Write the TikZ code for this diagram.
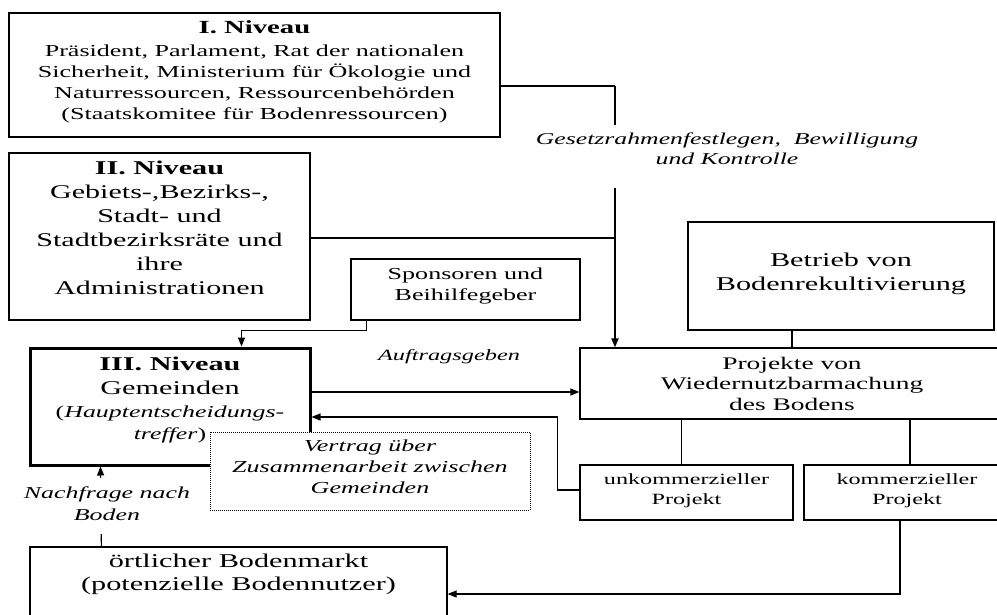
\documentclass[tikz,border=0pt]{standalone}
\usepackage{fontspec}
\setmainfont{Liberation Serif}[FakeStretch=1.55]
\usetikzlibrary{arrows.meta}
\newcommand{\fsz}[2]{\fontsize{#1}{#2}\selectfont}
\newcommand{\xdepth}[1]{\rule[-#1]{0pt}{#1}}
\tikzset{
  box/.style={draw, line width=1.2pt, inner sep=0pt, align=center, fill=white},
  lbl/.style={inner sep=0pt, align=center},
  conn/.style={line width=1.2pt},
  arr/.style={line width=1.2pt, -{Triangle[length=9pt,width=7pt]}},
}
\begin{document}
\begin{tikzpicture}[x=1pt,y=-1pt]
\useasboundingbox (0,0) rectangle (997,615);
\clip (0,0) rectangle (997,615);

% boxes
\node[box, minimum width=491pt, minimum height=124pt, font=\fsz{16.8}{21}] (n1) at (254.5,75)
  {{\bfseries\fsz{18.5}{21}I. Niveau}\\[2pt]
   Präsident, Parlament, Rat der nationalen\\
   Sicherheit, Ministerium für Ökologie und\\
   Naturressourcen, Ressourcenbehörden\\
   (Staatskomitee für Bodenressourcen)\xdepth{9pt}};

\node[box, minimum width=301pt, minimum height=167pt, font=\fsz{19.4}{24}] (n2) at (159.5,236.5)
  {{\bfseries\fsz{19.5}{24}II. Niveau}\\
   Gebiets-,Bezirks-,\\
   Stadt- und\\
   Stadtbezirksräte und\\
   ihre\\
   Administrationen\xdepth{17pt}};

\node[box, minimum width=229pt, minimum height=61pt, font=\fsz{16.8}{21}] (spon) at (465.5,289.5)
  {Sponsoren und\\Beihilfegeber\xdepth{11pt}};

\node[box, minimum width=306pt, minimum height=108pt, font=\fsz{19.5}{24}] (bet) at (841,276)
  {Betrieb von\\Bodenrekultivierung\xdepth{8pt}};

\node[box, minimum width=424pt, minimum height=71pt, font=\fsz{17.7}{20.5}] (proj) at (792,383.5)
  {Projekte von\\Wiedernutzbarmachung\\des Bodens};

\node[box, line width=3pt, minimum width=280pt, minimum height=117pt, font=\fsz{19.5}{24}] (n3) at (170,406.5)
  {{\bfseries III. Niveau}\\
   Gemeinden\\[-1pt]
   {\fsz{16.7}{22}(\textit{Hauptentscheidungs-}}\\[-2pt]
   {\fsz{16.7}{22}\textit{treffer})}\xdepth{16pt}};

\node[box, minimum width=213pt, minimum height=55pt, font=\fsz{15.6}{20}] (unk) at (686.5,492.5)
  {unkommerzieller\\Projekt\xdepth{6pt}};

\node[box, minimum width=206pt, minimum height=55pt, font=\fsz{15.6}{20}] (komm) at (907,492.5)
  {kommerzieller\\Projekt\xdepth{6pt}};

\node[box, minimum width=417pt, minimum height=73pt, font=\fsz{19.5}{23}] (mkt) at (238.5,583.5)
  {örtlicher Bodenmarkt\\(potenzielle Bodennutzer)\xdepth{22pt}};

% connectors
\coordinate (j1) at (615,86);
\draw[conn] ([yshift=-11pt]n1.east) -- (j1);
\draw[line width=2pt, -{Triangle[length=9pt,width=7pt]}] (j1) -- (j1 |- proj.north);
\draw[conn] ([yshift=-1.5pt]n2.east) -- ([yshift=-1.5pt]n2.east -| j1);

\draw[arr] ([xshift=16pt]spon.south west) -- ++(0,10) -| ([xshift=213pt]n3.north west);

\coordinate (a1) at ([yshift=14.5pt]n3.east);
\draw[arr] (a1) -- (a1 -| proj.west);

\coordinate (a2) at ([yshift=-10.5pt]n3.east);
\draw[arr] ([yshift=2.5pt]unk.west) -- ++(-22,0) |- (a2);

\draw[conn] (proj.north) -- (proj.north |- bet.south);
\draw[conn] ([xshift=-5pt]unk.north) -- ([xshift=-5pt]unk.north |- proj.south);
\draw[conn] ([xshift=3pt]komm.north) -- ([xshift=3pt]komm.north |- proj.south);

\coordinate (a3) at ([yshift=-10.5pt]mkt.east);
\draw[arr] ([xshift=-7pt]komm.south) |- (a3);

\draw[arr] ([xshift=72pt]mkt.north west) -- node[lbl, fill=white, minimum height=56pt, xshift=6pt, font=\fsz{16.7}{22}\itshape] (nach) {Nachfrage nach\\Boden\xdepth{5pt}} ([xshift=72pt]n3.south west);

% dotted agreement box (on top of III. Niveau)
\node[box, line width=0.9pt, dash pattern=on 1pt off 1pt, minimum width=320pt, minimum height=78pt, font=\fsz{16.8}{21}\itshape] (vert) at (370,471)
  {Vertrag über\\Zusammenarbeit zwischen\\Gemeinden\xdepth{9pt}};

% labels
\node[lbl, fill=white, minimum height=63pt, font=\fsz{16.6}{20}\itshape] (ges) at (727,156.5)
  {Gesetzrahmenfestlegen,~ Bewilligung\\und Kontrolle\xdepth{15pt}};
\node[lbl, anchor=base, font=\fsz{15.7}{20}\itshape] (auf) at (449,360) {Auftragsgeben};
\end{tikzpicture}
\end{document}
